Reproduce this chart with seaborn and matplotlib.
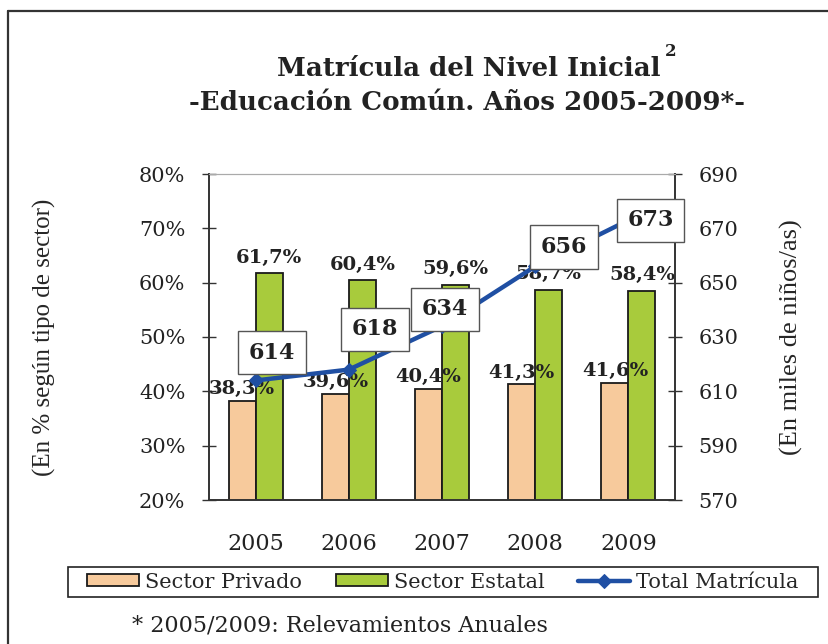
import matplotlib

matplotlib.use("Agg")
import matplotlib.pyplot as plt
import pandas as pd
import seaborn as sns
from matplotlib.lines import Line2D
from matplotlib.patches import Rectangle

years = ["2005", "2006", "2007", "2008", "2009"]
privado = [38.3, 39.6, 40.4, 41.3, 41.6]
estatal = [61.7, 60.4, 59.6, 58.7, 58.4]
total = [614, 618, 634, 656, 673]
sectors = ["Sector Privado", "Sector Estatal"]

# offsets (points) of each total label box from its marker
box_offsets = [(12, 20), (19, 29), (2, 12), (21, 14), (16, 0)]

df = pd.DataFrame(
    {
        "year": years * 2,
        "sector": [sectors[0]] * len(years) + [sectors[1]] * len(years),
        "pct": privado + estatal,
    }
)
df_total = pd.DataFrame({"year": years, "total": total})

sns.set_style("white")
plt.rcParams["font.family"] = ["DejaVu Serif"]
TIMES = ["Liberation Serif", "DejaVu Serif"]
INK = "#222222"

fig = plt.figure(figsize=(8.29, 6.44), dpi=100)
ax = fig.add_axes([209 / 829, 1 - 500 / 644, 466 / 829, 326 / 644])

sns.barplot(
    data=df, x="year", y="pct", hue="sector", hue_order=sectors,
    palette=["#F7CA9C", "#A8CB3C"], width=0.58, edgecolor="#1a1a1a",
    linewidth=1.3, saturation=1, ax=ax, legend=True,
)
handles, labels = ax.get_legend_handles_labels()
ax.get_legend().remove()

for cont, pad in zip(ax.containers, [2, 5]):
    ax.bar_label(
        cont, labels=[f"{v:.1f}%".replace(".", ",") for v in cont.datavalues],
        padding=pad, fontsize=14, fontweight="bold", color=INK,
    )

ax.set_ylim(20, 80)
ax.set_yticks(range(20, 81, 10))
ax.set_yticklabels([f"{t}%" for t in range(20, 81, 10)])
ax.set_xlim(-0.5, 4.5)
ax.set_xlabel("")
ax.set_ylabel("(En % según tipo de sector)", fontsize=18, family=TIMES, labelpad=60)
ax.set_xticks(range(len(years)))
ax.set_xticks([i - 0.5 for i in range(len(years) + 1)], minor=True)
ax.tick_params(axis="x", which="major", length=0, pad=24, labelsize=16, labelcolor=INK)
ax.tick_params(axis="x", which="minor", length=7, width=1, direction="out", color="#333333")
ax.tick_params(axis="y", length=10, width=1, direction="inout", pad=12, labelsize=15,
               left=True, color="#333333", labelcolor=INK)

ax2 = ax.twinx()
sns.lineplot(
    data=df_total, x="year", y="total", color="#1F4FA3", linewidth=3.2,
    marker="D", markersize=7, markeredgecolor="#1F4FA3", ax=ax2,
    label="Total Matrícula", legend=False,
)
ax2.set_ylim(570, 690)
ax2.set_yticks(range(570, 691, 20))
ax2.set_ylabel("(En miles de niños/as)", fontsize=19, family=TIMES, labelpad=30)
ax2.tick_params(axis="y", length=10, width=1, direction="inout", pad=12, labelsize=15,
                right=True, color="#333333", labelcolor=INK)
ax2.set_xlim(-0.5, 4.5)

for i, (v, off) in enumerate(zip(total, box_offsets)):
    ax2.annotate(
        str(v), xy=(i, v), xytext=off, textcoords="offset points",
        ha="center", va="center", fontsize=16, fontweight="bold", color=INK,
        bbox=dict(boxstyle="square,pad=0.48", fc="white", ec="#555555", lw=1),
        zorder=10,
    )

for a in (ax, ax2):
    for side in ("left", "right", "bottom"):
        a.spines[side].set_color("#333333")
        a.spines[side].set_linewidth(1.2)
    a.spines["top"].set_color("#aaaaaa")

h2, l2 = ax2.get_legend_handles_labels()
fig.legend(
    handles + h2, labels + l2, loc="center", bbox_to_anchor=(443 / 829, 1 - 582 / 644),
    ncol=3, frameon=False, fontsize=15,
    handlelength=2.5, handleheight=0.55, columnspacing=1.6, handletextpad=0.3,
    borderpad=0.3, borderaxespad=0,
)
fig.add_artist(Rectangle((68 / 829, 1 - 597 / 644), 750 / 829, 30 / 644, fill=False,
                         ec=INK, lw=1.2, transform=fig.transFigure))

fig.text(469 / 829, 1 - 68 / 644, "Matrícula del Nivel Inicial", ha="center", va="center",
         fontsize=18.7, fontweight="bold", color=INK)
fig.text(665 / 829, 1 - 52 / 644, "2", ha="left", va="center",
         fontsize=12, fontweight="bold", color=INK)
fig.text(467 / 829, 1 - 103 / 644, "-Educación Común. Años 2005-2009*-", ha="center",
         va="center", fontsize=18.8, fontweight="bold", color=INK)
fig.text(132 / 829, 1 - 625 / 644, "* 2005/2009: Relevamientos Anuales", ha="left",
         va="center", fontsize=16, color=INK)

# outer frame (top and left edges visible)
fig.add_artist(Line2D([8 / 829, 8 / 829], [0, 1 - 11 / 644], color="#333333", lw=1.6))
fig.add_artist(Line2D([8 / 829, 1], [1 - 11 / 644, 1 - 11 / 644], color="#333333", lw=1.6))

fig.savefig("out.png", dpi=100)
